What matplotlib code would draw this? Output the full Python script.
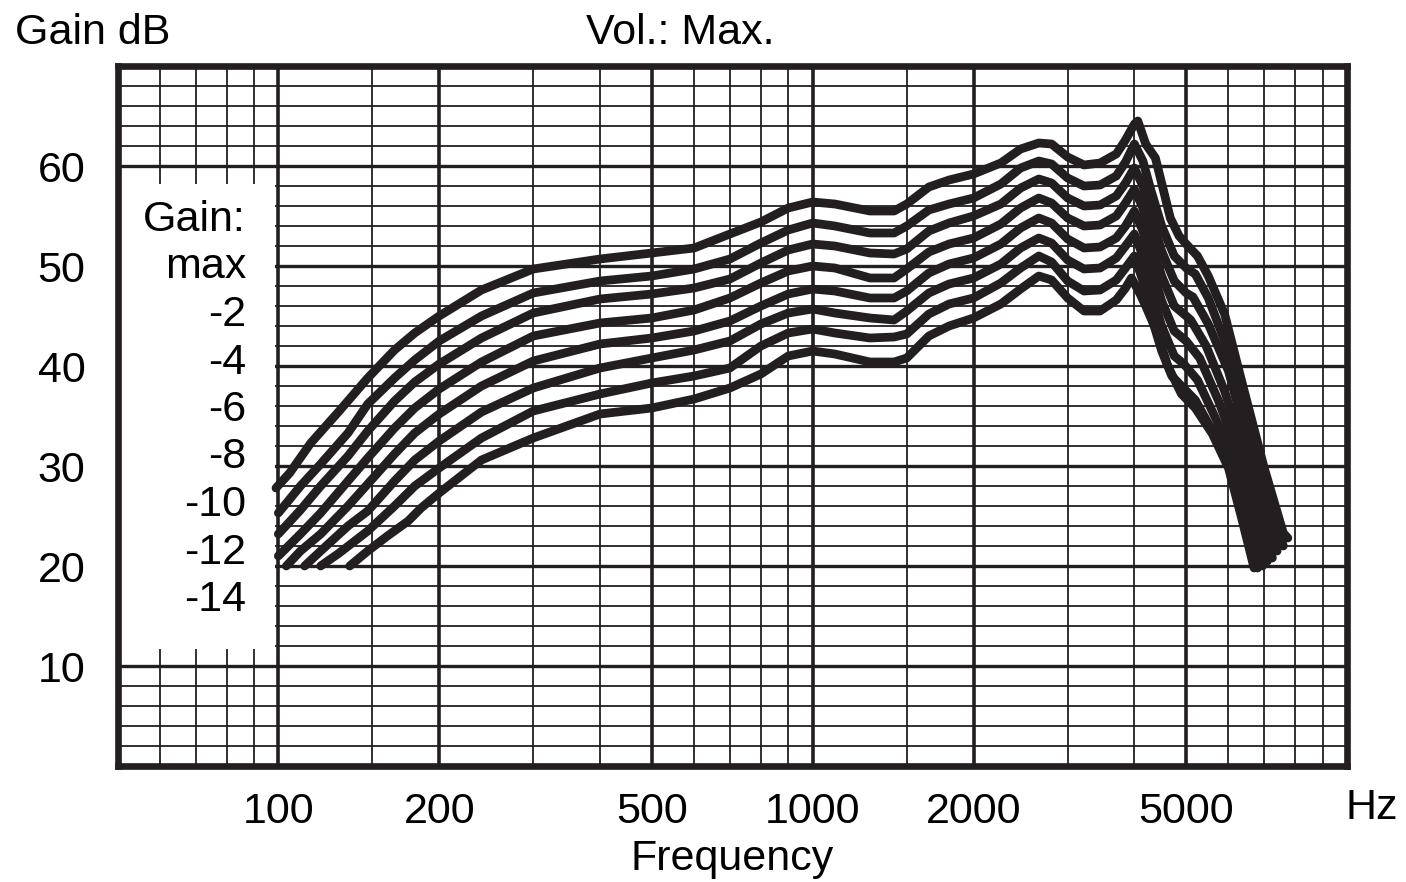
import matplotlib
matplotlib.use("Agg")
import matplotlib.pyplot as plt
from matplotlib.patches import Rectangle
from matplotlib.ticker import NullLocator

plt.rcParams["font.family"] = ["Liberation Sans", "DejaVu Sans"]

# shared mid-band frequencies (Hz)
mid_f = [200, 240, 300, 400, 500, 600, 700, 800, 900, 1000, 1100, 1280, 1420,
         1500, 1650, 1800, 2000, 2250, 2450, 2650, 2800, 3000, 3220, 3450, 3700, 3850]

# gain setting: max
f_max = [99, 105, 115, 130, 147, 165, 180] + mid_f + \
        [4000, 4060, 4200, 4380, 4670, 4850, 5000, 5250, 5500, 5900, 6400, 7000, 7600, 7750]
g_max = [27.8, 29.3, 32.3, 35.5, 38.8, 41.6, 43.3,
         45, 47.6, 49.7, 50.7, 51.3, 51.8, 53.2, 54.4, 55.8, 56.4, 56.2, 55.5, 55.5,
         56.2, 57.9, 58.6, 59.2, 60.3, 61.7, 62.3, 62.2, 60.9, 60.1, 60.3, 61.2, 62.6,
         64.2, 64.5, 62.2, 60.8, 54.8, 53, 52.2, 51, 49, 45.2, 37.8, 29.8, 23.3, 22.8]

# -2
f_m2 = [100, 110, 120, 135, 147, 165, 180] + mid_f + \
       [4000, 4150, 4300, 4500, 4750, 5000, 5200, 5500, 6000, 6850, 7300, 7600]
g_m2 = [25.3, 28, 30.2, 33.3, 36.2, 38.8, 40.6,
        42.5, 45, 47.3, 48.5, 49, 49.7, 50.7, 52.3, 53.6, 54.3, 54, 53.3, 53.3,
        54, 55.6, 56.2, 56.8, 58.2, 59.8, 60.5, 60.2, 58.8, 58, 58.1, 59, 60.4,
        62.2, 60.5, 57.5, 54, 51, 49.8, 49.2, 46.8, 41.5, 30, 25, 22]

# -4
f_m4 = [100, 110, 120, 135, 147, 165, 180] + mid_f + \
       [4000, 4150, 4300, 4500, 4750, 5000, 5150, 5500, 6000, 6700, 7100, 7400]
g_m4 = [23.2, 25.6, 28, 31, 33.5, 36.5, 38.4,
        40.2, 42.8, 45.3, 46.7, 47.2, 47.8, 48.7, 50.3, 51.6, 52.2, 52, 51.3, 51.2,
        51.7, 53.5, 54.3, 55, 56.2, 57.8, 58.7, 58.3, 56.8, 56, 56.1, 57, 58.3,
        59.8, 58, 55, 51.5, 48.5, 47.3, 46.9, 44.2, 39.5, 30, 25.5, 21.5]

# -6
f_m6 = [100, 110, 120, 135, 147, 165, 180] + mid_f + \
       [4000, 4150, 4300, 4500, 4750, 5000, 5100, 5450, 5900, 6550, 6950, 7250]
g_m6 = [21.0, 23.2, 25.3, 28.5, 30.8, 33.8, 35.8,
        37.7, 40.4, 43, 44.3, 44.8, 45.6, 46.8, 48.3, 49.5, 50, 49.8, 48.8, 48.8,
        49.7, 51.4, 52.2, 52.8, 54.2, 55.8, 56.8, 56.3, 54.8, 54, 54.1, 55, 56.3,
        57.7, 55.8, 52.5, 49, 46, 45, 44.6, 42, 37.5, 29.8, 25, 20.8]

# -8
f_m8 = [103.5, 110, 120, 135, 147, 165, 180] + mid_f + \
       [4000, 4150, 4300, 4500, 4750, 5000, 5300, 5750, 6400, 6800, 7100]
g_m8 = [20, 21.5, 23.2, 26, 28.2, 31.2, 33.3,
        35.2, 38, 40.5, 42.2, 42.8, 43.5, 44.5, 46, 47.2, 47.7, 47.5, 46.8, 46.8,
        47.5, 49.3, 50.2, 50.8, 52.2, 53.8, 54.8, 54.3, 52.7, 51.8, 51.9, 52.8, 54,
        55.5, 53.5, 50, 46.5, 43.5, 42.5, 40.8, 36.5, 29.8, 25, 20.5]

# -10
f_m10 = [112, 120, 135, 147, 165, 180] + mid_f + \
        [4000, 4150, 4300, 4500, 4750, 4950, 5250, 5650, 6250, 6650, 6950]
g_m10 = [20, 21.5, 24, 25.5, 28.5, 30.6,
         32.5, 35.4, 37.8, 39.8, 40.8, 41.6, 42.5, 44.2, 45.3, 45.7, 45.3, 44.8, 44.6,
         45.5, 47.3, 48.2, 48.8, 50.2, 51.8, 52.8, 52.3, 50.6, 49.7, 49.8, 50.8, 52,
         53.2, 51, 47.5, 44, 41, 40.2, 38.6, 35, 29.8, 24.5, 20]

# -12
f_m12 = [120, 130, 147, 165, 180] + mid_f + \
        [4000, 4150, 4300, 4500, 4700, 4900, 5200, 5600, 6100, 6500, 6800]
g_m12 = [20, 21.3, 23.5, 26, 28,
         29.8, 32.8, 35.5, 37.2, 38.3, 39, 39.8, 42, 43.3, 43.7, 43.3, 42.8, 42.9,
         43.2, 45.2, 46.2, 46.8, 48.3, 49.8, 51, 50.4, 48.5, 47.5, 47.6, 48.6, 49.8,
         51, 48.5, 45, 41.5, 39, 38, 36.6, 33.5, 29.5, 24.5, 19.8]

# -14
f_m14 = [136, 147, 160, 175, 185] + mid_f + \
        [3950, 4100, 4200, 4400, 4620, 4900, 5200, 5600, 6000, 6350, 6700]
g_m14 = [20, 21.5, 23, 24.5, 25.8,
         27.3, 30.6, 32.8, 35.2, 35.8, 36.7, 37.8, 39.2, 41, 41.5, 41.2, 40.4, 40.4,
         40.8, 43, 44, 44.8, 46.2, 47.7, 49, 48.6, 46.8, 45.5, 45.5, 46.6, 47.8,
         48.8, 47.2, 46, 43.5, 40, 37.2, 35.8, 33.2, 29.8, 24.8, 19.8]

curves = [(f_max, g_max), (f_m2, g_m2), (f_m4, g_m4), (f_m6, g_m6),
          (f_m8, g_m8), (f_m10, g_m10), (f_m12, g_m12), (f_m14, g_m14)]

legend_labels = ["Gain:", "max", "-2", "-4", "-6", "-8", "-10", "-12", "-14"]
x_ticks = [100, 200, 500, 1000, 2000, 5000]
y_ticks = [10, 20, 30, 40, 50, 60]
grid_f = [60, 70, 80, 90, 100, 150, 200, 300, 400, 500, 600, 700, 800, 900,
          1000, 1500, 2000, 3000, 4000, 5000, 6000, 7000, 8000, 9000]

ink = "#231f20"
W, H = 1406, 882
fig = plt.figure(figsize=(W / 100, H / 100), dpi=100)
ax = fig.add_axes([117.5 / W, 116 / H, 1229.5 / W, 700 / H])
ax.set_xscale("log")
ax.set_xlim(50, 10000)
ax.set_ylim(0, 70)

for f in grid_f:
    ax.axvline(f, color=ink, lw=2.6 if f in x_ticks else 1.3, zorder=1)
for g in range(2, 70, 2):
    ax.axhline(g, color=ink, lw=2.4 if g % 10 == 0 else 1.3, zorder=1)

# white panel behind the legend text
ax.add_patch(Rectangle((50, 11.7), 48.6, 46.5, facecolor="white",
                       edgecolor="none", zorder=2))

for f, g in curves:
    ax.plot(f, g, color=ink, lw=6.3, solid_joinstyle="round",
            solid_capstyle="round", zorder=3)

for s in ax.spines.values():
    s.set_linewidth(4.8)
    s.set_color(ink)
    s.set_zorder(5)

ax.set_xticks(x_ticks)
ax.set_xticklabels([str(v) for v in x_ticks])
ax.xaxis.set_minor_locator(NullLocator())
ax.set_yticks(y_ticks)
ax.set_yticklabels([str(v) for v in y_ticks])
ax.tick_params(axis="both", which="both", length=0, labelsize=31)
ax.tick_params(axis="x", pad=19)
ax.tick_params(axis="y", pad=23)

fig.text(15 / W, 1 - 33 / H, "Gain dB", ha="left", va="center", fontsize=31)
fig.text(680 / W, 1 - 33 / H, "Vol.: Max.", ha="center", va="center", fontsize=31)
fig.text(1372 / W, 1 - 808 / H, "Hz", ha="center", va="center", fontsize=31)
fig.text(732 / W, 1 - 859 / H, "Frequency", ha="center", va="center", fontsize=31)

for i, lab in enumerate(legend_labels):
    fig.text(246 / W, 1 - (220 + 47.5 * i) / H, lab, ha="right", va="center",
             fontsize=31)

fig.savefig("out.png", dpi=100)
